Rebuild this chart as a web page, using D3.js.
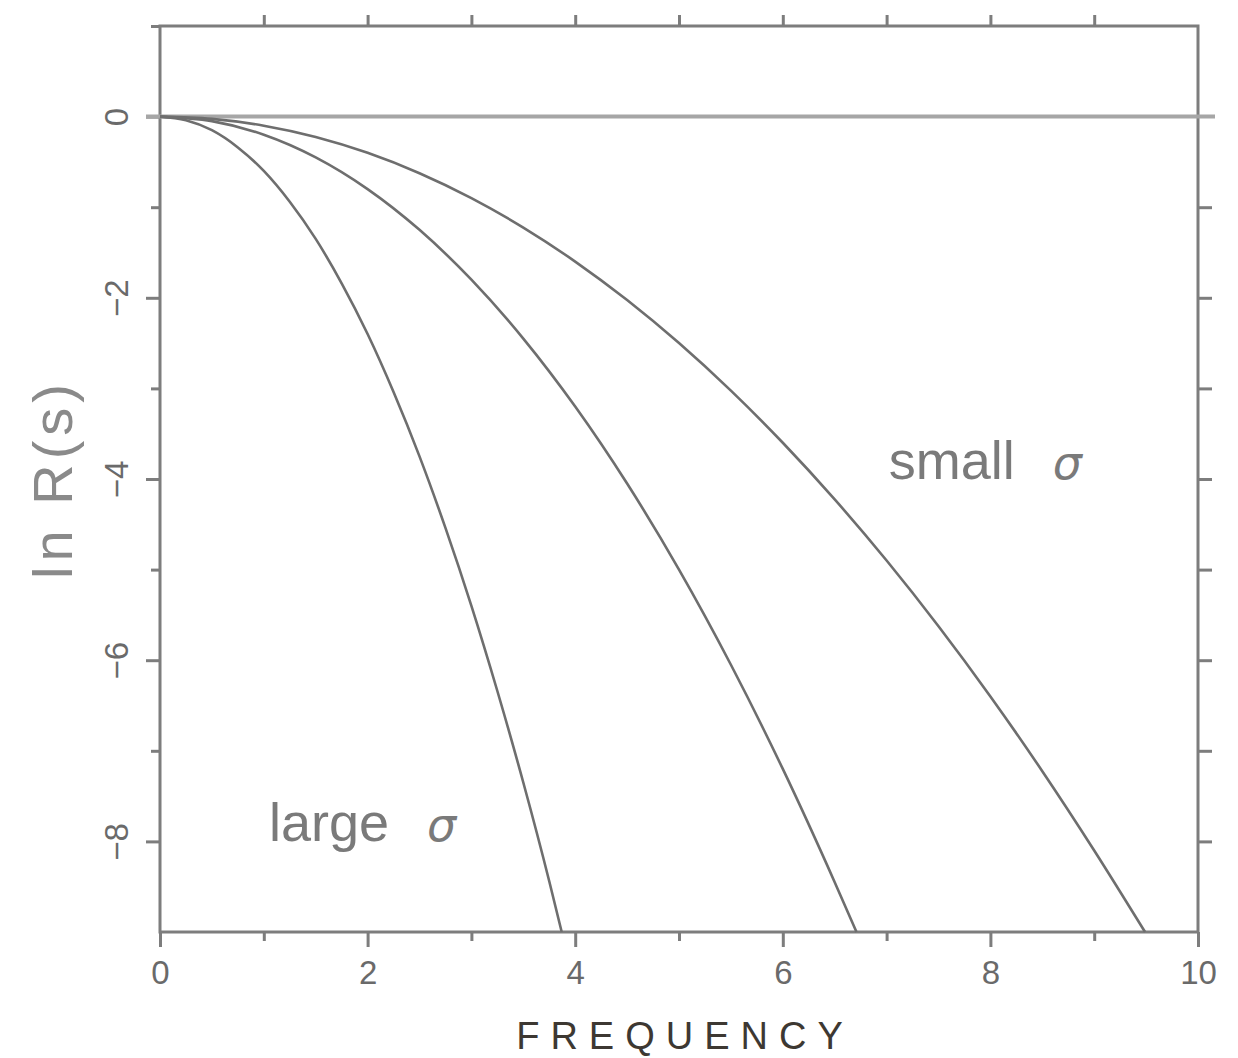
<!DOCTYPE html>
<html>
<head>
<meta charset="utf-8">
<script src="https://cdn.jsdelivr.net/npm/d3@7"></script>
<style>
  html, body { margin: 0; padding: 0; background: #fff; }
  svg { display: block; }
</style>
</head>
<body>
<svg id="chart" width="1238" height="1058"></svg>
<script>
// ---- data ----
const xLabel = "FREQUENCY";
const yLabel = "ln R(s)";
const xTicksMajor = [0, 2, 4, 6, 8, 10];
const xTicksMinor = [1, 3, 5, 7, 9];
const yTicksMajor = [0, -2, -4, -6, -8];
const yTicksMinor = [1, -1, -3, -5, -7];

// large sigma curve
const largeS = [0, 0.25, 0.5, 0.75, 1, 1.25, 1.5, 1.75, 2, 2.25, 2.5, 2.75, 3, 3.25, 3.5, 3.75, 3.87];
const largeV = [0, -0.04, -0.15, -0.34, -0.6, -0.94, -1.35, -1.84, -2.4, -3.04, -3.75, -4.54, -5.4, -6.34, -7.35, -8.44, -9.0];
// medium sigma curve
const midS = [0, 0.5, 1, 1.5, 2, 2.5, 3, 3.5, 4, 4.5, 5, 5.5, 6, 6.5, 6.71];
const midV = [0, -0.05, -0.2, -0.45, -0.8, -1.25, -1.8, -2.45, -3.2, -4.05, -5.0, -6.05, -7.2, -8.45, -9.0];
// small sigma curve
const smallS = [0, 0.5, 1, 1.5, 2, 2.5, 3, 3.5, 4, 4.5, 5, 5.5, 6, 6.5, 7, 7.5, 8, 8.5, 9, 9.49];
const smallV = [0, -0.025, -0.1, -0.225, -0.4, -0.625, -0.9, -1.225, -1.6, -2.025, -2.5, -3.025, -3.6, -4.225, -4.9, -5.625, -6.4, -7.225, -8.1, -9.0];

const annotations = [
  { text: "small", sym: "σ", s: 7.02, v: -4.0 },
  { text: "large", sym: "σ", s: 1.05, v: -8.0 }
];

// ---- layout ----
const svg = d3.select("#chart");
const L = 160, R = 1198, T = 26, B = 932;
const x = d3.scaleLinear().domain([0, 10]).range([L, R]);
const y = d3.scaleLinear().domain([-9, 1]).range([B, T]);

const frameColor = "#7d7d7d";
const labelColor = "#6a6a6a";
const tickFont = "'Liberation Sans', Arial, sans-serif";

function styleAxis(g) {
  g.select(".domain").remove();
  g.selectAll(".tick line").attr("stroke", frameColor).attr("stroke-width", 3);
}

// bottom axis: major ticks with labels
svg.append("g")
  .attr("transform", `translate(0,${B})`)
  .call(d3.axisBottom(x).tickValues(xTicksMajor).tickSize(15).tickPadding(14).tickFormat(d3.format("d")))
  .call(styleAxis)
  .call(g => g.selectAll("text")
    .attr("font-family", tickFont).attr("font-size", 33).attr("fill", labelColor));
// bottom minor ticks
svg.append("g")
  .attr("transform", `translate(0,${B})`)
  .call(d3.axisBottom(x).tickValues(xTicksMinor).tickSize(9).tickFormat(""))
  .call(styleAxis);
// top ticks
svg.append("g")
  .attr("transform", `translate(0,${T})`)
  .call(d3.axisTop(x).tickValues(xTicksMinor.concat([2,4,6,8])).tickSize(11).tickFormat(""))
  .call(styleAxis);

// left axis major with rotated labels
svg.append("g")
  .attr("transform", `translate(${L},0)`)
  .call(d3.axisLeft(y).tickValues(yTicksMajor).tickSize(14).tickFormat(d3.format("d")))
  .call(styleAxis)
  .call(g => g.selectAll("text")
    .attr("x", null).attr("dy", null)
    .attr("transform", `translate(${116 - L},0) rotate(-90)`)
    .attr("text-anchor", "middle")
    .attr("dy", "0.36em")
    .attr("font-family", tickFont).attr("font-size", 33).attr("fill", labelColor));
svg.append("g")
  .attr("transform", `translate(${L},0)`)
  .call(d3.axisLeft(y).tickValues(yTicksMinor).tickSize(9).tickFormat(""))
  .call(styleAxis);
// right ticks
svg.append("g")
  .attr("transform", `translate(${R},0)`)
  .call(d3.axisRight(y).tickValues(yTicksMinor.concat(yTicksMajor).filter(v => v !== 1 && v !== 0)).tickSize(14).tickFormat(""))
  .call(styleAxis);

// frame
svg.append("rect")
  .attr("x", L).attr("y", T)
  .attr("width", R - L).attr("height", B - T)
  .attr("fill", "none")
  .attr("stroke", frameColor).attr("stroke-width", 3);

// zero line
svg.append("line")
  .attr("x1", L - 14).attr("x2", R + 17)
  .attr("y1", y(0)).attr("y2", y(0))
  .attr("stroke", "#a6a6a6").attr("stroke-width", 4);

// curves
const line = d3.line()
  .x(d => x(d[0]))
  .y(d => y(d[1]))
  .curve(d3.curveMonotoneX);

const series = [
  d3.zip(largeS, largeV),
  d3.zip(midS, midV),
  d3.zip(smallS, smallV)
];
svg.append("g").selectAll("path")
  .data(series)
  .join("path")
  .attr("d", line)
  .attr("fill", "none")
  .attr("stroke", "#6e6e6e")
  .attr("stroke-width", 2.6);

// annotations
const ann = svg.append("g")
  .attr("font-family", tickFont)
  .attr("font-size", 54)
  .attr("fill", "#7a7a7a");
annotations.forEach(a => {
  const t = ann.append("text")
    .attr("x", x(a.s)).attr("y", y(a.v))
    .text(a.text);
  const w = t.node().getComputedTextLength();
  ann.append("text")
    .attr("x", x(a.s) + w + 38).attr("y", y(a.v))
    .attr("font-family", "'DejaVu Sans', sans-serif")
    .attr("font-style", "italic")
    .attr("font-size", 46)
    .text(a.sym);
});

// axis titles
svg.append("text")
  .attr("x", (L + R) / 2 + 6).attr("y", 1049)
  .attr("text-anchor", "middle")
  .attr("font-family", "'Liberation Sans', Arial, sans-serif")
  .attr("font-size", 38)
  .attr("letter-spacing", 11)
  .attr("fill", "#3d3832")
  .text(xLabel);

svg.append("text")
  .attr("transform", `translate(72,${y(-4)}) rotate(-90)`)
  .attr("text-anchor", "middle")
  .attr("font-family", tickFont)
  .attr("font-size", 56)
  .attr("letter-spacing", 5)
  .attr("fill", "#8a8a8a")
  .text(yLabel);
</script>
</body>
</html>
